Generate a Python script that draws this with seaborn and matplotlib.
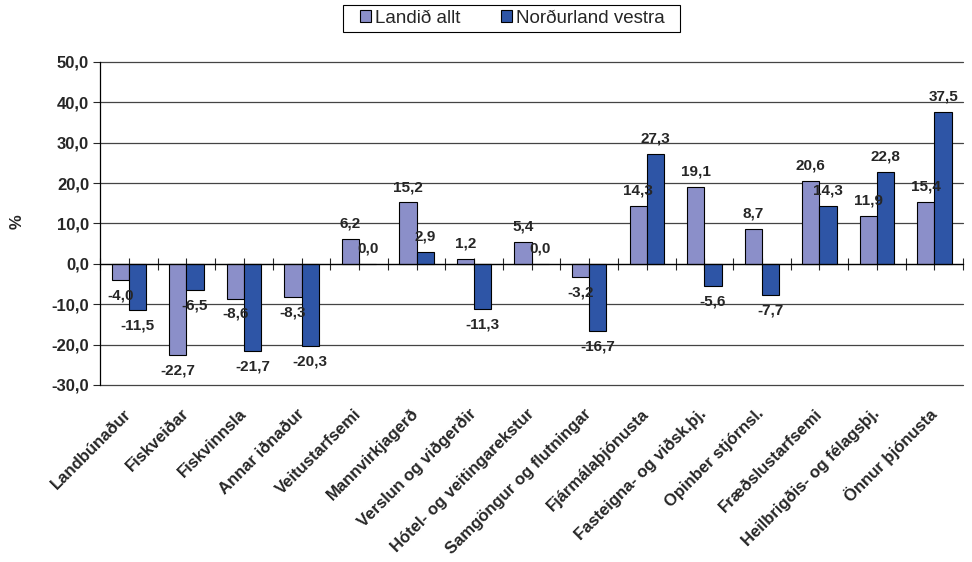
import matplotlib
matplotlib.use("Agg")
import matplotlib.pyplot as plt
import seaborn as sns
import pandas as pd
import numpy as np

categories = ["Landbúnaður", "Fiskveiðar", "Fiskvinnsla", "Annar iðnaður", "Veitustarfsemi",
              "Mannvirkjagerð", "Verslun og viðgerðir", "Hótel- og veitingarekstur",
              "Samgöngur og flutningar", "Fjármálaþjónusta", "Fasteigna- og viðsk.þj.",
              "Opinber stjórnsl.", "Fræðslustarfsemi", "Heilbrigðis- og félagsþj.", "Önnur þjónusta"]
landid_allt = [-4.0, -22.7, -8.6, -8.3, 6.2, 15.2, 1.2, 5.4, -3.2, 14.3, 19.1, 8.7, 20.6, 11.9, 15.4]
nordurland_vestra = [-11.5, -6.5, -21.7, -20.3, 0.0, 2.9, -11.3, 0.0, -16.7, 27.3, -5.6, -7.7, 14.3, 22.8, 37.5]
series_names = ["Landið allt", "Norðurland vestra"]
colors = ["#8B8FC9", "#2E55A6"]

df = pd.DataFrame({
    "cat": categories * 2,
    "val": landid_allt + nordurland_vestra,
    "series": [series_names[0]] * len(categories) + [series_names[1]] * len(categories),
})

sns.set_style("white")
plt.rcParams["font.family"] = ["Liberation Sans", "DejaVu Sans"]

fig = plt.figure(figsize=(9.72, 5.62), dpi=100)
ax = fig.add_axes([0.103, 0.315, 0.888, 0.575])

sns.barplot(data=df, x="cat", y="val", hue="series", palette=colors, width=0.6,
            edgecolor="black", linewidth=0.8, ax=ax, legend=True, saturation=1)

ax.set_ylim(-30, 50)
ax.set_xlim(-0.5, len(categories) - 0.5)
yt = np.arange(-30, 51, 10)
ax.set_yticks(yt)
ax.set_yticklabels([f"{v:.1f}".replace(".", ",") for v in yt], fontsize=12, fontweight="bold")
ax.yaxis.grid(True, color="#444444", linewidth=0.9)
for gl in ax.yaxis.get_gridlines():
    gl.set_clip_on(False)
ax.set_axisbelow(True)
ax.set_ylabel("%", fontsize=12, fontweight="bold")
ax.yaxis.set_label_coords(-0.087, 0.505)
ax.set_xlabel("")
ax.tick_params(axis="y", which="both", direction="out", length=5, width=0.8, left=True, pad=3)

for s in ["top", "right"]:
    ax.spines[s].set_visible(False)
ax.spines["left"].set_color("black")
ax.spines["left"].set_linewidth(0.9)
ax.spines["bottom"].set_position(("data", 0))
ax.spines["bottom"].set_color("black")
ax.spines["bottom"].set_linewidth(0.9)

n = len(categories)
ax.set_xticks(np.arange(n))
ax.set_xticks(np.arange(n + 1) - 0.5, minor=True)
ax.tick_params(axis="x", which="both", direction="inout", length=9, width=0.8,
               bottom=True, labelbottom=False)

sec = ax.secondary_xaxis(location=0)
sec.set_xticks(np.arange(n))
sec.set_xticklabels(categories, rotation=45, ha="right", va="center", rotation_mode="anchor",
                    fontsize=12, fontweight="bold")
sec.tick_params(axis="x", length=0, pad=19)
sec.spines["bottom"].set_visible(False)

for cont, vals in zip(ax.containers, [landid_allt, nordurland_vestra]):
    labels = [f"{v:.1f}".replace(".", ",") for v in vals]
    ax.bar_label(cont, labels=labels, padding=6, fontsize=11, fontweight="bold")

ax.get_legend().remove()
handles = [plt.Rectangle((0, 0), 1, 1, facecolor=c, edgecolor="black", linewidth=0.8) for c in colors]
leg = fig.legend(handles, series_names, loc="center", bbox_to_anchor=(0.527, 0.967),
                 ncol=2, frameon=False, fontsize=13.5,
                 handlelength=0.6, handleheight=0.6, handletextpad=0.2, columnspacing=2.2,
                 borderpad=0.2, borderaxespad=0)
fig.patches.append(plt.Rectangle((343 / 972, 1 - 32 / 562), 337 / 972, 27 / 562,
                                 transform=fig.transFigure, fill=False,
                                 edgecolor="black", linewidth=0.8))

fig.savefig("out.png", dpi=100)
